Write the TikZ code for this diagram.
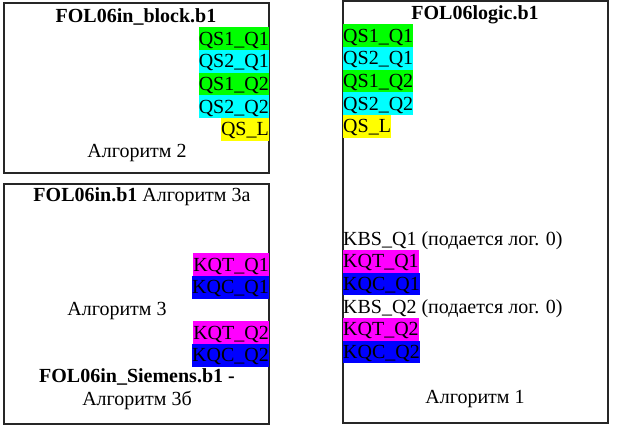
\documentclass[tikz,border=0pt]{standalone}
\usepackage{fontspec}
\setmainfont{Liberation Serif}
\definecolor{sgreen}{RGB}{0,255,0}
\definecolor{scyan}{RGB}{0,255,255}
\definecolor{syellow}{RGB}{255,255,0}
\definecolor{smagenta}{RGB}{255,0,255}
\definecolor{sblue}{RGB}{0,0,255}
\tikzset{
  frame/.style={draw=black!85, line width=1.3pt},
  sig/.style={inner sep=0pt, text height=18pt, text depth=4.7pt, font=\fontsize{20}{23}\selectfont},
  lbl/.style={inner sep=0pt, font=\fontsize{20}{23}\selectfont, align=center},
  ttl/.style={lbl, font=\fontsize{20}{23}\selectfont\bfseries}
}
\begin{document}
\begin{tikzpicture}[x=1pt, y=-1pt]
    \useasboundingbox (0,0) rectangle (624,438);
    % Top left: FOL06in_block.b1
    \draw[frame] (4,3) rectangle (269,173);
    \node[ttl] (blk) at (136,17) {FOL06in\_block.b1};
    \node[sig, fill=sgreen,  anchor=north east] (bq1) at (269,27.0)  {QS1\_Q1};
    \node[sig, fill=scyan,   anchor=north east] (bq2) at (269,49.7)  {QS2\_Q1};
    \node[sig, fill=sgreen,  anchor=north east] (bq3) at (269,72.4)  {QS1\_Q2};
    \node[sig, fill=scyan,   anchor=north east] (bq4) at (269,95.1)  {QS2\_Q2};
    \node[sig, fill=syellow, anchor=north east] (bql) at (269,117.8) {QS\_L};
    \node[lbl] (alg2) at (137,153) {Алгоритм 2};
    % Bottom left: FOL06in.b1
    \draw[frame] (4,184) rectangle (269,424);
    \node[lbl] (inb) at (142,197) {\textbf{FOL06in.b1} Алгоритм 3а};
    \node[sig, fill=smagenta, anchor=north east] (kt1) at (269,253.0) {KQT\_Q1};
    \node[sig, fill=sblue,    anchor=north east] (kc1) at (269,275.7) {KQC\_Q1};
    \node[lbl] (alg3) at (117,311) {Алгоритм 3};
    \node[sig, fill=smagenta, anchor=north east] (kt2) at (269,321.0) {KQT\_Q2};
    \node[sig, fill=sblue,    anchor=north east] (kc2) at (269,343.7) {KQC\_Q2};
    \node[lbl] (sie) at (137,389) {\textbf{FOL06in\_Siemens.b1 -}\\Алгоритм 3б};
    % Right: FOL06logic.b1
    \draw[frame] (343,1) rectangle (608,423);
    \node[ttl] (lgc) at (475,15) {FOL06logic.b1};
    \node[sig, fill=sgreen,  anchor=north west] (lq1) at (343,24.0)  {QS1\_Q1};
    \node[sig, fill=scyan,   anchor=north west] (lq2) at (343,46.7)  {QS2\_Q1};
    \node[sig, fill=sgreen,  anchor=north west] (lq3) at (343,69.4)  {QS1\_Q2};
    \node[sig, fill=scyan,   anchor=north west] (lq4) at (343,92.1)  {QS2\_Q2};
    \node[sig, fill=syellow, anchor=north west] (lql) at (343,114.8) {QS\_L};
    \node[sig, anchor=north west] (kb1) at (343,227.0) {KBS\_Q1 (подается лог. 0)};
    \node[sig, fill=smagenta, anchor=north west] (lt1) at (343,249.7) {KQT\_Q1};
    \node[sig, fill=sblue,    anchor=north west] (lc1) at (343,272.4) {KQC\_Q1};
    \node[sig, anchor=north west] (kb2) at (343,295.1) {KBS\_Q2 (подается лог. 0)};
    \node[sig, fill=smagenta, anchor=north west] (lt2) at (343,317.8) {KQT\_Q2};
    \node[sig, fill=sblue,    anchor=north west] (lc2) at (343,340.5) {KQC\_Q2};
    \node[lbl] (alg1) at (475,399) {Алгоритм 1};
\end{tikzpicture}
\end{document}
